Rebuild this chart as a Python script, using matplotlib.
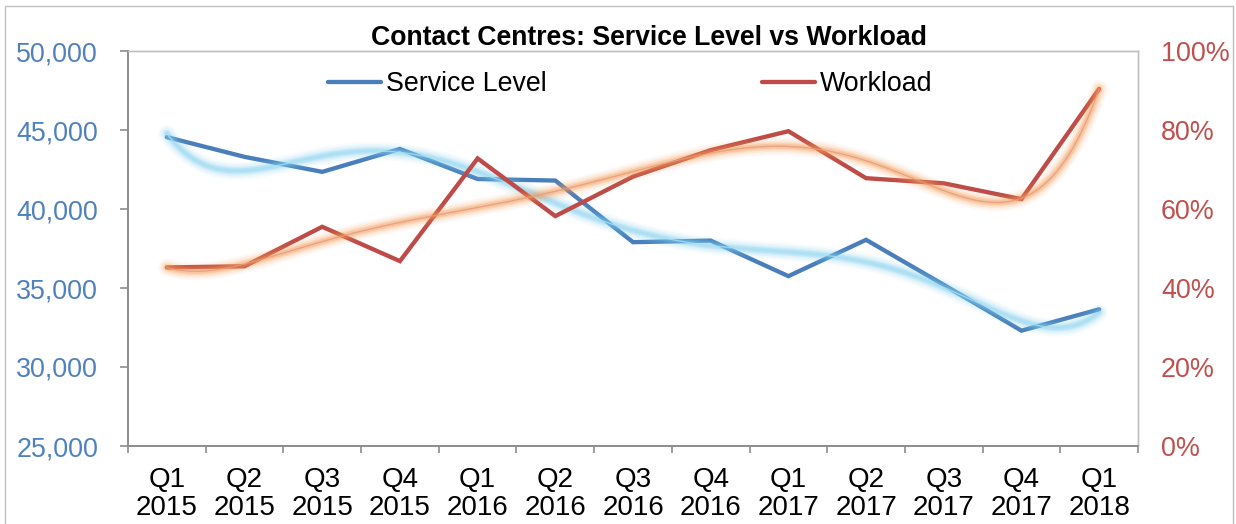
import numpy as np
import matplotlib
matplotlib.use("Agg")
import matplotlib.pyplot as plt
from matplotlib.patches import Rectangle
from matplotlib.lines import Line2D
from matplotlib.ticker import FuncFormatter, FixedLocator

plt.rcParams['font.family'] = ['Liberation Sans', 'DejaVu Sans']

# Quarterly data
quarters = ["Q1\n2015", "Q2\n2015", "Q3\n2015", "Q4\n2015",
            "Q1\n2016", "Q2\n2016", "Q3\n2016", "Q4\n2016",
            "Q1\n2017", "Q2\n2017", "Q3\n2017", "Q4\n2017",
            "Q1\n2018"]
service_level = [44550, 43300, 42350, 43800, 41900, 41800, 37900,
                 38000, 35750, 38050, 35200, 32300, 33650]
workload = [45.2, 45.5, 55.5, 46.8, 72.8, 58.2, 68.2,
            74.9, 79.7, 67.8, 66.5, 62.5, 90.4]
left_ticks = [25000, 30000, 35000, 40000, 45000, 50000]
right_ticks = [0, 20, 40, 60, 80, 100]

BLUE = "#4A7EBB"
RED = "#BE4B48"
LEFT_LBL = "#4F81BD"
RIGHT_LBL = "#C0504D"
AXIS_GREY = "#8C8C8C"
BORDER_GREY = "#BFBFBF"

W, H = 1236, 524
PX = 72 / 100  # points per pixel at 100 dpi

fig = plt.figure(figsize=(W / 100, H / 100), dpi=100)
fig.patch.set_facecolor("white")

# outer chart frame
fig.patches.append(Rectangle((5 / W, -0.05), (1233 - 5) / W, 1 - 6 / H + 0.05,
                             transform=fig.transFigure, fill=False,
                             edgecolor=BORDER_GREY, linewidth=1.0, zorder=0))

ax1 = fig.add_axes([128 / W, 1 - 446 / H, 1010 / W, 395 / H])
ax2 = ax1.twinx()

x = np.arange(len(quarters))
xs = np.linspace(0, len(quarters) - 1, 300)


def glow_trend(ax, values, glow_color, core_color):
    coef = np.polyfit(x, values, 6)
    ys = np.polyval(coef, xs)
    for lw, a in [(13, 0.05), (10.5, 0.08), (8, 0.12), (5.5, 0.2), (3.5, 0.28)]:
        ax.plot(xs, ys, color=glow_color, lw=lw, alpha=a,
                solid_capstyle="round", zorder=4)
    ax.plot(xs, ys, color=core_color, lw=1.0, alpha=0.8, zorder=5)


ax1.plot(x, service_level, color=BLUE, lw=3.1, solid_capstyle="round",
         solid_joinstyle="miter", zorder=3)
glow_trend(ax1, service_level, "#7CCFF0", "#A9DDF2")

ax2.plot(x, workload, color=RED, lw=3.1, solid_capstyle="round",
         solid_joinstyle="miter", zorder=3)
glow_trend(ax2, workload, "#F59A4F", "#E49A85")

ax1.set_xlim(-0.5, len(quarters) - 0.5)
ax1.set_ylim(25000, 50000)
ax2.set_ylim(0, 100)

ax1.yaxis.set_major_locator(FixedLocator(left_ticks))
ax1.yaxis.set_major_formatter(FuncFormatter(lambda v, p: f"{int(v):,}"))
ax2.yaxis.set_major_locator(FixedLocator(right_ticks))
ax2.yaxis.set_major_formatter(FuncFormatter(lambda v, p: f"{int(v)}%"))

ax1.set_xticks(x)
ax1.set_xticklabels(quarters, fontsize=20, linespacing=1.1)
ax1.set_xticks(np.arange(-0.5, len(quarters), 1.0), minor=True)
ax1.tick_params(axis="x", which="major", length=0, pad=21 * PX)
ax1.tick_params(axis="x", which="minor", length=7 * PX, color=AXIS_GREY,
                width=1.2)
ax1.tick_params(axis="y", length=8 * PX, color=AXIS_GREY, width=1.2,
                pad=22 * PX, labelsize=19.4, labelcolor=LEFT_LBL)
ax2.tick_params(axis="y", length=0, pad=23 * PX, labelsize=19.4,
                labelcolor=RIGHT_LBL)

for ax in (ax1, ax2):
    ax.spines["left"].set_color(AXIS_GREY)
    ax.spines["bottom"].set_color(AXIS_GREY)
    ax.spines["left"].set_linewidth(1.2)
    ax.spines["bottom"].set_linewidth(1.2)
    ax.spines["top"].set_color(BORDER_GREY)
    ax.spines["right"].set_color(BORDER_GREY)
    ax.spines["top"].set_linewidth(1.0)
    ax.spines["right"].set_linewidth(1.0)
    ax.patch.set_visible(False)

fig.text(649 / W, 1 - 45 / H, "Contact Centres: Service Level vs Workload",
         ha="center", va="baseline", fontsize=19.2, fontweight="bold")

handles = [Line2D([], [], color=BLUE, lw=3.1, solid_capstyle="round"),
           Line2D([], [], color=RED, lw=3.1, solid_capstyle="round")]
fig.legend(handles, ["Service Level", "Workload"], ncol=2, frameon=False,
           loc="center left", bbox_to_anchor=(328 / W, 1 - 84 / H),
           fontsize=19.25, handlelength=1.98, handletextpad=0.19,
           columnspacing=8.05, borderpad=0, borderaxespad=0)

fig.savefig("out.png", dpi=100, facecolor="white")
